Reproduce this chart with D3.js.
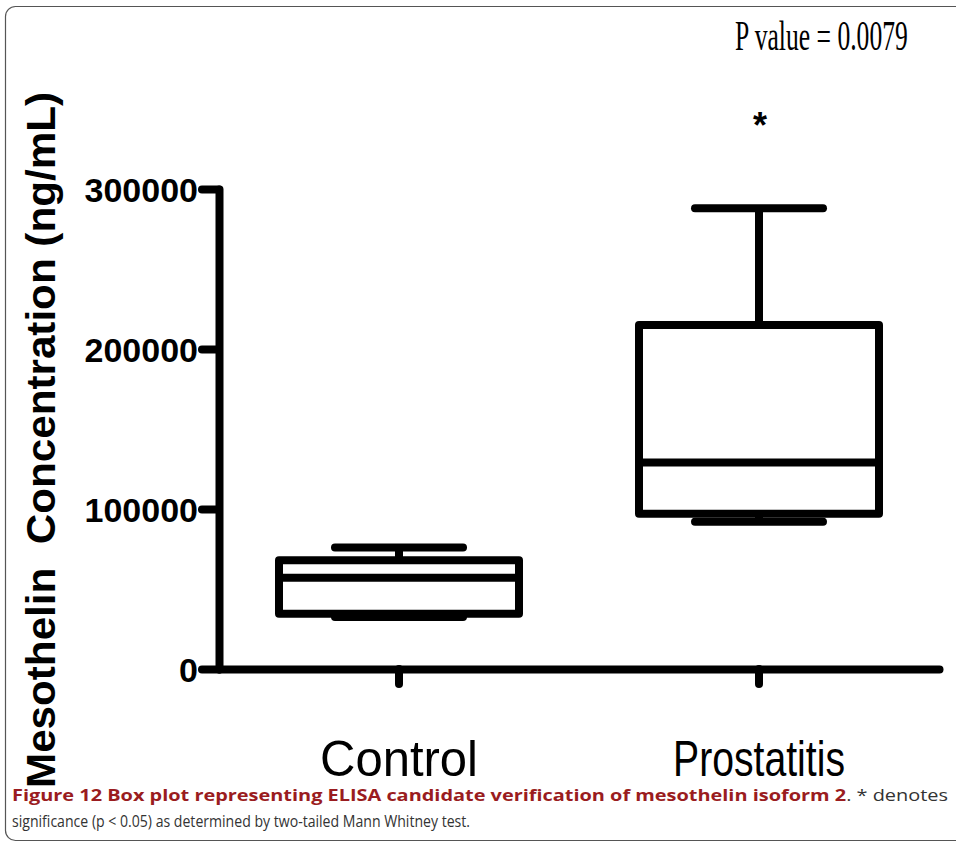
<!DOCTYPE html>
<html>
<head>
<meta charset="utf-8">
<script src="https://cdn.jsdelivr.net/npm/d3@7"></script>
<style>
  html, body { margin: 0; padding: 0; background: #fff; }
  svg { display: block; }
</style>
</head>
<body>
<svg></svg>
<script>
const width = 956;
const height = 844;

// values
const groups = ['Control', 'Prostatitis'];
const whiskerLow = [32500, 92000];
const q1 = [34500, 97000];
const median = [57000, 129000];
const q3 = [68000, 215000];
const whiskerHigh = [76000, 288000];
const yTicks = [0, 100000, 200000, 300000];

const svg = d3.select('svg')
    .attr('width', width)
    .attr('height', height);

// frame around figure
svg.append('rect')
    .attr('x', 5.5)
    .attr('y', 6.5)
    .attr('width', 970)
    .attr('height', 834)
    .attr('rx', 10)
    .attr('fill', 'none')
    .attr('stroke', '#555')
    .attr('stroke-width', 1.2);

const y = d3.scaleLinear().domain([0, 300000]).range([669, 189]);
const x = d3.scaleBand().domain(groups).range([219, 939]);
const cx = d => x(d) + x.bandwidth() / 2;

const boxW = 240;
const capW = 128;
const sw = 8;

// y axis
const yAxis = svg.append('g')
    .attr('transform', 'translate(219,0)')
    .call(d3.axisLeft(y).tickValues(yTicks).tickSize(17).tickSizeOuter(0).tickPadding(4).tickFormat(d3.format('d')));

// x axis
const xAxis = svg.append('g')
    .attr('transform', 'translate(0,669)')
    .call(d3.axisBottom(x).tickSize(15).tickSizeOuter(0).tickPadding(92));

svg.selectAll('.domain, .tick line')
    .attr('stroke', '#000')
    .attr('stroke-width', sw)
    .attr('stroke-linecap', 'round');

yAxis.selectAll('text')
    .attr('fill', '#000')
    .style('font-family', 'Liberation Sans, Arial, sans-serif')
    .style('font-weight', 'bold')
    .style('font-size', '34px')
    .attr('dy', '0.36em');

xAxis.selectAll('text')
    .attr('fill', '#000')
    .attr('dy', '0')
    .style('font-family', 'Liberation Sans, Arial, sans-serif')
    .style('font-size', '50px')
    .attr('textLength', d => d === 'Control' ? 158 : 172)
    .attr('lengthAdjust', 'spacingAndGlyphs');

// boxes
const box = svg.append('g')
    .attr('fill', 'none')
    .attr('stroke', '#000')
    .attr('stroke-width', sw);

groups.forEach((g, i) => {
    const c = cx(g);
    box.append('line')
        .attr('x1', c).attr('x2', c)
        .attr('y1', y(q3[i])).attr('y2', y(whiskerHigh[i]));
    box.append('line')
        .attr('x1', c).attr('x2', c)
        .attr('y1', y(q1[i])).attr('y2', y(whiskerLow[i]));
    box.append('rect')
        .attr('x', c - boxW / 2)
        .attr('y', y(q3[i]))
        .attr('width', boxW)
        .attr('height', y(q1[i]) - y(q3[i]))
        .attr('stroke-linejoin', 'round');
    box.append('line')
        .attr('x1', c - boxW / 2).attr('x2', c + boxW / 2)
        .attr('y1', y(median[i])).attr('y2', y(median[i]));
    [whiskerHigh[i], whiskerLow[i]].forEach(v => {
        box.append('line')
            .attr('x1', c - capW / 2).attr('x2', c + capW / 2)
            .attr('y1', y(v)).attr('y2', y(v))
            .attr('stroke-linecap', 'round');
    });
});

// axis title
svg.append('text')
    .attr('transform', 'translate(55,440) rotate(-90)')
    .attr('text-anchor', 'middle')
    .style('white-space', 'pre')
    .style('font-family', 'Liberation Sans, Arial, sans-serif')
    .style('font-weight', 'bold')
    .style('font-size', '41px')
    .attr('textLength', 696)
    .attr('lengthAdjust', 'spacingAndGlyphs')
    .text('Mesothelin  Concentration (ng/mL)');

// p value and significance star (narrow serif, squeezed sideways)
svg.append('text')
    .attr('transform', 'translate(735,50) scale(0.61,1)')
    .style('font-family', 'Liberation Serif, Times New Roman, serif')
    .style('font-size', '42px')
    .text('P value = 0.0079');

svg.append('text')
    .attr('x', cx('Prostatitis') + 1)
    .attr('y', 138)
    .attr('text-anchor', 'middle')
    .style('font-family', 'Liberation Sans, Arial, sans-serif')
    .style('font-weight', 'bold')
    .style('font-size', '36px')
    .text('*');

// caption
const cap1 = svg.append('text')
    .attr('x', 12)
    .attr('y', 801)
    .style('font-family', 'Open Sans, sans-serif')
    .style('font-size', '16px')
    .attr('fill', '#333')
    .attr('textLength', 936)
    .attr('lengthAdjust', 'spacingAndGlyphs');
cap1.append('tspan')
    .attr('fill', '#9a1c20')
    .style('font-weight', 'bold')
    .text('Figure 12 Box plot representing ELISA candidate verification of mesothelin isoform 2');
cap1.append('tspan')
    .text('. * denotes');

svg.append('text')
    .attr('x', 12)
    .attr('y', 827)
    .style('font-family', 'Open Sans, sans-serif')
    .style('font-size', '16px')
    .attr('fill', '#333')
    .attr('textLength', 458)
    .attr('lengthAdjust', 'spacingAndGlyphs')
    .text('significance (p < 0.05) as determined by two-tailed Mann Whitney test.');
</script>
</body>
</html>
